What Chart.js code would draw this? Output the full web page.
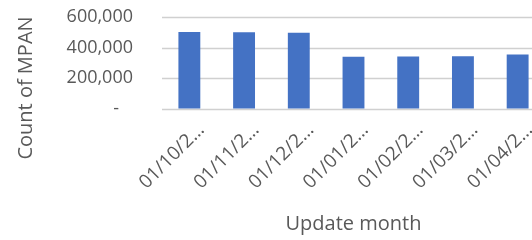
<!DOCTYPE html>
<html>
<head>
<meta charset="utf-8">
<script src="https://cdn.jsdelivr.net/npm/chart.js@4"></script>
<style>
  html, body { margin: 0; padding: 0; background: #fff; overflow: hidden; }
  #wrap { width: 545px; height: 240px; }
</style>
</head>
<body>
<div id="wrap"><canvas id="mpanChart"></canvas></div>
<script>
// Data
const months = ['01/10/2…', '01/11/2…', '01/12/2…', '01/01/2…', '01/02/2…', '01/03/2…', '01/04/2…'];
const mpanCounts = [502000, 500000, 498000, 341000, 342000, 344000, 356000];
const yMax = 600000;
const yStep = 200000;
const yTitle = 'Count of MPAN';

const fontFamily = '"Open Sans", "Noto Sans", sans-serif';
const textColor = '#595959';
const gridColor = '#d0d0d0';

// horizontal gridlines, placed from the y scale's own ticks
const gridPlugin = {
    id: 'hGrid',
    beforeDatasetsDraw(chart) {
        const y = chart.scales.y;
        const area = chart.chartArea;
        const c = chart.ctx;
        c.save();
        c.strokeStyle = gridColor;
        c.lineWidth = 1.5;
        y.ticks.forEach(t => {
            const py = Math.round(y.getPixelForValue(t.value)) + 0.5;
            c.beginPath();
            c.moveTo(area.left, py);
            c.lineTo(area.right, py);
            c.stroke();
        });
        c.restore();
    }
};

// y title sits lower than the plot centre in the original, so draw it by hand
const yTitlePlugin = {
    id: 'yTitle',
    afterDraw(chart) {
        const c = chart.ctx;
        c.save();
        c.translate(26, 88);
        c.rotate(-Math.PI / 2);
        c.font = '20px ' + fontFamily;
        c.fillStyle = textColor;
        c.textAlign = 'center';
        c.textBaseline = 'middle';
        c.fillText(yTitle, 0, 0);
        c.restore();
    }
};

const ctx = document.getElementById('mpanChart').getContext('2d');

new Chart(ctx, {
    type: 'bar',
    data: {
        labels: months,
        datasets: [{
            label: yTitle,
            data: mpanCounts,
            backgroundColor: '#4472c4',
            barPercentage: 0.4,
            categoryPercentage: 1.0
        }]
    },
    plugins: [gridPlugin, yTitlePlugin],
    options: {
        responsive: true,
        maintainAspectRatio: false,
        animation: false,
        layout: { padding: { top: 17, right: 0, bottom: 0, left: 0 } },
        plugins: {
            legend: { display: false },
            tooltip: { enabled: false }
        },
        scales: {
            x: {
                grid: { display: false, drawTicks: false },
                border: { display: false },
                ticks: {
                    color: textColor,
                    font: { family: fontFamily, size: 19 },
                    maxRotation: 45,
                    minRotation: 45,
                    padding: 10,
                    labelOffset: 12,
                    autoSkip: false
                },
                title: {
                    display: true,
                    text: 'Update month',
                    color: textColor,
                    font: { family: fontFamily, size: 20 },
                    padding: { top: 4, bottom: 4 }
                },
                afterFit: scale => { scale.height = 131; }
            },
            y: {
                min: 0,
                max: yMax,
                // gridlines come from the plugin; invisible tick marks keep the labels off the plot
                grid: {
                    drawOnChartArea: false,
                    drawTicks: true,
                    tickLength: 29,
                    tickColor: 'rgba(255,255,255,0)'
                },
                border: { display: false },
                ticks: {
                    stepSize: yStep,
                    color: textColor,
                    font: { family: fontFamily, size: 18 },
                    padding: 0,
                    autoSkip: false,
                    callback: v => v === 0 ? '-   ' : v.toLocaleString('en-GB')
                },
                afterFit: scale => { scale.width = 162; }
            }
        }
    }
});
</script>
</body>
</html>
